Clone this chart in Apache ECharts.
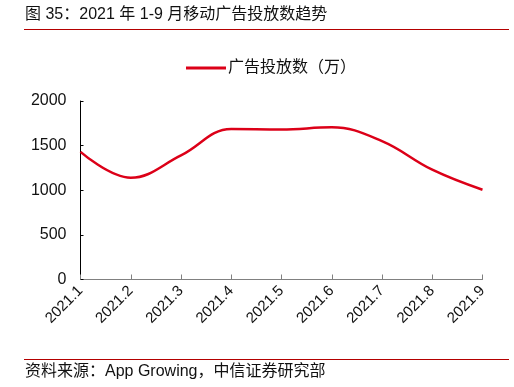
<!DOCTYPE html>
<html><head><meta charset="utf-8">
<script src="https://cdn.jsdelivr.net/npm/echarts@6/dist/echarts.min.js"></script>
<style>html,body{margin:0;padding:0;background:#fff;}#c{width:514px;height:387px;}</style>
</head><body><div id="c"></div>
<script>
const categories = ['2021.1','2021.2','2021.3','2021.4','2021.5','2021.6','2021.7','2021.8','2021.9'];
const adCounts = [1430, 1140, 1390, 1685, 1680, 1705, 1550, 1230, 1005];
const yTicks = [0, 500, 1000, 1500, 2000];
const seriesName = '广告投放数（万）';
const titleText = '图 35：2021 年 1-9 月移动广告投放数趋势';
const sourceText = '资料来源：App Growing，中信证券研究部';

const font = '"Liberation Sans", Arial, "Noto Sans CJK SC", sans-serif';
const chart = echarts.init(document.getElementById('c'), null, {renderer: 'canvas'});
chart.setOption({
  animation: false,
  backgroundColor: '#fff',
  graphic: [
    {type: 'text', left: 25, top: 7, style: {text: titleText, font: '16px ' + font, fill: '#111'}},
    {type: 'line', shape: {x1: 24, y1: 29.5, x2: 509, y2: 29.5}, style: {stroke: '#b40000', lineWidth: 1.2}},
    {type: 'line', shape: {x1: 24, y1: 359.5, x2: 509, y2: 359.5}, style: {stroke: '#b40000', lineWidth: 1.2}},
    {type: 'text', left: 25, top: 364, style: {text: sourceText, font: '16px ' + font, fill: '#111'}}
  ],
  legend: {
    top: 55, left: 181,
    itemWidth: 40, itemHeight: 3, itemGap: 2,
    icon: 'rect',
    textStyle: {fontSize: 16, fontFamily: font, color: '#111', padding: [0, 0, 0, -3]},
    data: [seriesName]
  },
  grid: {left: 80.5, right: 31.5, top: 101, bottom: 107.5, containLabel: false},
  xAxis: {
    type: 'category', data: categories, boundaryGap: false,
    axisLine: {lineStyle: {color: '#808080', width: 1}},
    axisTick: {inside: true, length: 5, alignWithLabel: true, lineStyle: {color: '#808080'}},
    axisLabel: {rotate: 45, fontSize: 15, fontFamily: font, color: '#111', margin: 9, interval: 0}
  },
  yAxis: {
    type: 'value', min: 0, max: 2000, interval: 500,
    axisLine: {show: true, lineStyle: {color: '#000', width: 1}},
    axisTick: {show: true, inside: true, length: 3, lineStyle: {color: '#000'}},
    splitLine: {show: false},
    axisLabel: {fontSize: 16, fontFamily: font, color: '#111', margin: 14,
      formatter: v => yTicks.includes(v) ? String(v) : ''}
  },
  series: [{
    name: seriesName, type: 'line', data: adCounts, smooth: 0.4,
    symbol: 'none',
    lineStyle: {color: '#dc0018', width: 2.5},
    itemStyle: {color: '#dc0018'}
  }]
});
</script></body></html>
